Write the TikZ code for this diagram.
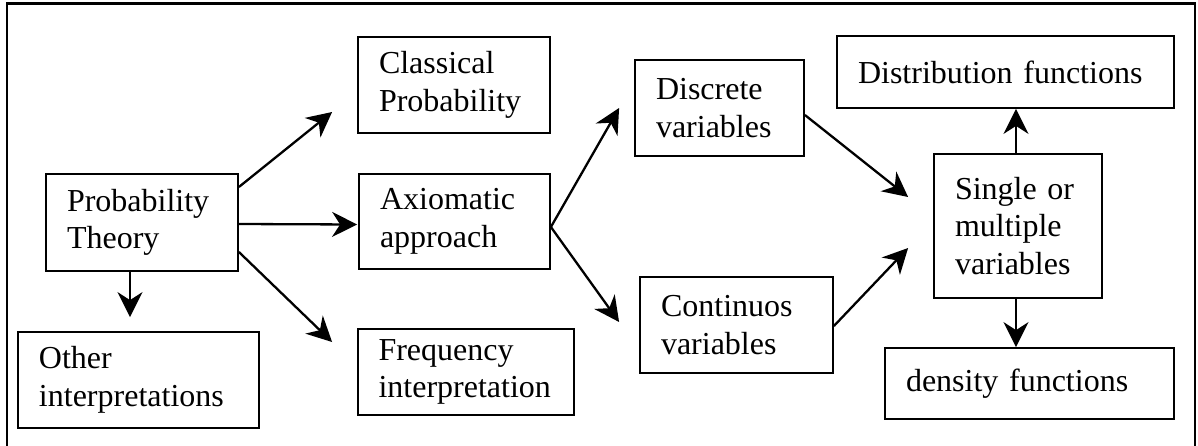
\documentclass[tikz,border=0pt]{standalone}
\usepackage{fontspec}
\setmainfont{Liberation Serif}
\usetikzlibrary{arrows.meta,calc}
\hyphenpenalty=10000
\exhyphenpenalty=10000
\tikzset{
  box/.style={draw, line width=0.9pt, inner sep=0pt, align=left,
    font=\fontsize{16}{18.8}\selectfont},
  conn/.style={line width=1.15pt, -{Stealth[length=12.5pt,width=12.5pt,inset=4pt]}},
  frame/.style={line width=1.2pt}
}
\begin{document}
\begin{tikzpicture}[x=0.5pt,y=-0.5pt]
\useasboundingbox (0,0) rectangle (1198,445);
\draw[frame] (7,460) -- (7,3.5) -- (1195,3.5) -- (1195,460);
\node[box, minimum width=96pt, minimum height=48pt, text width=75pt] (cp) at (454,85) {Classical\\Probability};
\node[box, minimum width=96pt, minimum height=48.5pt, text width=75pt] (pt) at (142,222.5) {Probability\\Theory};
\node[box, minimum width=95.5pt, minimum height=47.5pt, text width=74.5pt] (ax) at (454.5,221.5) {Axiomatic\\approach};
\node[box, minimum width=120.5pt, minimum height=48pt, text width=99.5pt] (ot) at (138.5,380) {Other\\interpretations};
\node[box, minimum width=108pt, minimum height=43pt, text width=87.5pt] (fr) at (466,372) {Frequency\\interpretation};
\node[box, minimum width=84.5pt, minimum height=48pt, text width=63.5pt] (dv) at (719.5,108) {Discrete\\variables};
\node[box, minimum width=96.5pt, minimum height=48pt, text width=75.5pt] (cv) at (736.5,325) {Continuos\\variables};
\node[box, minimum width=84pt, minimum height=72pt, text width=63pt] (sm) at (1018,226) {Single or\\multiple\\variables};
\node[box, minimum width=168.5pt, minimum height=36pt, text width=147.5pt] (df) at (1005.5,72) {Distribution functions};
\node[box, minimum width=144.5pt, minimum height=35.5pt, text width=123.5pt] (dn) at (1029.5,383.5) {density functions};
\draw[conn] ($(pt.east)+(0,-35.5)$) -- ($(cp.west)+(-25,27)$);
\draw[conn] ($(pt.east)+(0,1.5)$) -- ($(ax.west)+(-1,3)$);
\draw[conn] ($(pt.east)+(0,29.5)$) -- ($(fr.west)+(-25,-30)$);
\draw[conn] ($(pt.south)+(-12,0)$) -- ($(ot.north)+(-8.5,-14)$);
\draw[conn] ($(ax.east)+(0,5.5)$) -- ($(dv.west)+(-15,0)$);
\draw[conn] ($(ax.east)+(0,5.5)$) -- ($(cv.west)+(-20,-3)$);
\draw[conn] ($(dv.east)+(0,7)$) -- ($(sm.west)+(-25,-29)$);
\draw[conn] ($(cv.east)+(0,1)$) -- ($(sm.west)+(-25,22)$);
\draw[conn] ($(sm.north)+(-2,0)$) -- ($(sm.north |- df.south)+(-2,0)$);
\draw[conn] ($(sm.south)+(-2,0)$) -- ($(sm.south |- dn.north)+(-2,0)$);
\end{tikzpicture}
\end{document}
